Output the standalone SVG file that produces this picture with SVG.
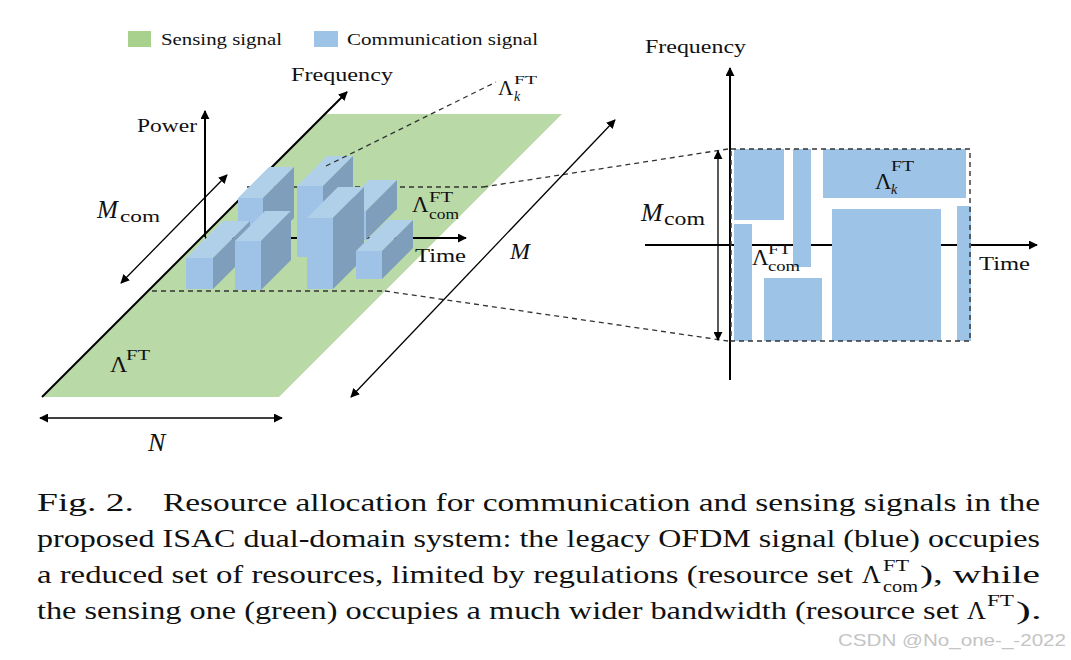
<svg xmlns="http://www.w3.org/2000/svg" width="1071" height="660" viewBox="0 0 1071 660">
<defs>
<marker id="ah" viewBox="0 0 10 10" refX="9" refY="5" markerWidth="9" markerHeight="9" markerUnits="userSpaceOnUse" orient="auto-start-reverse">
<path d="M0,0 L10,5 L0,10 z" fill="#000"/>
</marker>
<style>
text{font-family:'Liberation Serif','Tinos','Times New Roman','DejaVu Serif',serif;fill:#111}
.lbl{font-size:19.5px}
.it{font-style:italic}
.fr{fill:#9fc3e6}
.tp{fill:#b0d0ea}
.sd{fill:#7f9ebb}
.blk{fill:#9dc3e6}
.ax{stroke:#000;fill:none}
.dash{stroke:#333;stroke-width:1.3;stroke-dasharray:5,4;fill:none}
.cap{font-size:26px}
</style>
</defs>
<rect width="1071" height="660" fill="#fff"/>

<g id="legend">
<rect x="128" y="31" width="23" height="16" fill="#a9d18e"/>
<text x="161" y="45" font-size="17" textLength="121" lengthAdjust="spacingAndGlyphs">Sensing signal</text>
<rect x="314" y="31" width="24" height="16" fill="#9dc3e6"/>
<text x="347" y="45" font-size="17" textLength="191" lengthAdjust="spacingAndGlyphs">Communication signal</text>
</g>

<g id="plane">
<polygon points="42,397 279,397 562,114 325,114" fill="#b9d9a6"/>
</g>

<g id="connectors">
<line class="ax" x1="205" y1="237" x2="205" y2="111" stroke-width="2" marker-end="url(#ah)"/>
<line class="ax" x1="205" y1="238" x2="466" y2="238" stroke-width="2" marker-end="url(#ah)"/>
<line class="dash" x1="247" y1="187" x2="483" y2="187"/>
<line class="dash" x1="483" y1="187" x2="728" y2="149"/>
<line class="dash" x1="152" y1="291" x2="385" y2="291"/>
<line class="dash" x1="385" y1="291" x2="728" y2="341"/>
<line class="ax" x1="42" y1="397" x2="347" y2="92" stroke-width="2" marker-end="url(#ah)"/>
<line class="ax" x1="121" y1="283" x2="227" y2="175" stroke-width="1.3" marker-start="url(#ah)" marker-end="url(#ah)"/>
<line class="ax" x1="351" y1="397" x2="615" y2="120" stroke-width="1.3" marker-start="url(#ah)" marker-end="url(#ah)"/>
<line class="ax" x1="40" y1="418" x2="282" y2="418" stroke-width="1.5" marker-start="url(#ah)" marker-end="url(#ah)"/>
<line class="ax" x1="730" y1="380" x2="730" y2="68" stroke-width="2" marker-end="url(#ah)"/>
<line class="ax" x1="645" y1="245" x2="1037" y2="245" stroke-width="2" marker-end="url(#ah)"/>
<line class="ax" x1="718" y1="151" x2="718" y2="340" stroke="#222" stroke-width="1.3" marker-start="url(#ah)" marker-end="url(#ah)"/>
</g>

<g id="boxF"><rect class="fr" x="338" y="211" width="28" height="29"/><polygon class="tp" points="338,211 366,211 397,180 369,180"/><polygon class="sd" points="366,211 397,180 397,209 366,240"/></g>
<g id="boxC"><rect class="fr" x="238" y="198" width="25" height="51"/><polygon class="tp" points="238,198 263,198 294,167 269,167"/><polygon class="sd" points="263,198 294,167 294,218 263,249"/></g>
<g id="boxD"><rect class="fr" x="297" y="186" width="26" height="71"/><polygon class="tp" points="297,186 323,186 353,156 327,156"/><polygon class="sd" points="323,186 353,156 353,227 323,257"/></g>
<g id="boxA"><rect class="fr" x="186" y="258" width="27" height="31"/><polygon class="tp" points="186,258 213,258 250,221 223,221"/><polygon class="sd" points="213,258 250,221 250,252 213,289"/></g>
<g id="boxB"><rect class="fr" x="235" y="241" width="26" height="49"/><polygon class="tp" points="235,241 261,241 291,211 265,211"/><polygon class="sd" points="261,241 291,211 291,260 261,290"/></g>
<g id="boxE"><rect class="fr" x="307" y="218" width="26" height="71"/><polygon class="tp" points="307,218 333,218 364,187 338,187"/><polygon class="sd" points="333,218 364,187 364,258 333,289"/></g>
<g id="boxG"><rect class="fr" x="356" y="251" width="26" height="28"/><polygon class="tp" points="356,251 382,251 413,220 387,220"/><polygon class="sd" points="382,251 413,220 413,248 382,279"/></g>

<g id="kline"><line class="dash" x1="326" y1="166" x2="496" y2="82"/></g>

<g id="left-labels">
<text class="lbl" x="291" y="81" textLength="102" lengthAdjust="spacingAndGlyphs">Frequency</text>
<text class="lbl" x="137" y="132" textLength="60" lengthAdjust="spacingAndGlyphs">Power</text>
<text class="lbl" x="415" y="262" textLength="51" lengthAdjust="spacingAndGlyphs">Time</text>
<text class="it" x="97" y="218" font-size="25">M</text>
<text x="120" y="222" font-size="17" textLength="40" lengthAdjust="spacingAndGlyphs">com</text>
<text class="it" x="510" y="259" font-size="24">M</text>
<text class="it" x="148" y="451" font-size="26">N</text>
<text x="110" y="372" font-size="24">Λ</text>
<text x="126" y="360" font-size="14" textLength="24" lengthAdjust="spacingAndGlyphs">FT</text>
<text x="412" y="212" font-size="23">Λ</text>
<text x="429" y="202" font-size="14" textLength="24" lengthAdjust="spacingAndGlyphs">FT</text>
<text x="429" y="219" font-size="15" textLength="30" lengthAdjust="spacingAndGlyphs">com</text>
<text x="498" y="95" font-size="21">Λ</text>
<text x="514" y="84" font-size="13" textLength="23" lengthAdjust="spacingAndGlyphs">FT</text>
<text class="it" x="514" y="101" font-size="14">k</text>
</g>

<g id="tf-grid">
<rect class="blk" x="734" y="149" width="50" height="71"/>
<rect class="blk" x="793" y="149" width="18" height="118"/>
<rect class="blk" x="823" y="149" width="143" height="49"/>
<rect class="blk" x="734" y="224" width="18" height="117"/>
<rect class="blk" x="764" y="278" width="58" height="63"/>
<rect class="blk" x="832" y="209" width="109" height="132"/>
<rect class="blk" x="957" y="206" width="14" height="135"/>
<rect x="731" y="149" width="239" height="192" fill="none" stroke="#333" stroke-width="1.4" stroke-dasharray="5,4"/>
</g>

<g id="right-labels">
<text class="lbl" x="645" y="53" textLength="101" lengthAdjust="spacingAndGlyphs">Frequency</text>
<text class="lbl" x="979" y="270" textLength="51" lengthAdjust="spacingAndGlyphs">Time</text>
<text class="it" x="641" y="221" font-size="26">M</text>
<text x="664" y="225" font-size="18" textLength="41" lengthAdjust="spacingAndGlyphs">com</text>
<text x="875" y="189" font-size="23">Λ</text>
<text x="891" y="171" font-size="14" textLength="23" lengthAdjust="spacingAndGlyphs">FT</text>
<text class="it" x="891" y="194" font-size="14">k</text>
<text x="752" y="265" font-size="23">Λ</text>
<text x="768" y="254" font-size="14" textLength="23" lengthAdjust="spacingAndGlyphs">FT</text>
<text x="768" y="271" font-size="15" textLength="32" lengthAdjust="spacingAndGlyphs">com</text>
</g>

<g id="caption">
<text class="cap" x="37" y="511" textLength="97" lengthAdjust="spacingAndGlyphs">Fig. 2.</text>
<text class="cap" x="163" y="511" textLength="877" lengthAdjust="spacingAndGlyphs">Resource allocation for communication and sensing signals in the</text>
<text class="cap" x="37" y="547" textLength="1003" lengthAdjust="spacingAndGlyphs">proposed ISAC dual-domain system: the legacy OFDM signal (blue) occupies</text>
<text class="cap" x="37" y="583" textLength="816" lengthAdjust="spacingAndGlyphs">a reduced set of resources, limited by regulations (resource set</text>
<text class="cap" x="862" y="583">Λ</text>
<text x="883" y="571" font-size="17" textLength="26" lengthAdjust="spacingAndGlyphs">FT</text>
<text x="883" y="592" font-size="17" textLength="35" lengthAdjust="spacingAndGlyphs">com</text>
<text class="cap" x="920" y="583" textLength="120" lengthAdjust="spacingAndGlyphs">), while</text>
<text class="cap" x="37" y="619" textLength="922" lengthAdjust="spacingAndGlyphs">the sensing one (green) occupies a much wider bandwidth (resource set</text>
<text class="cap" x="967" y="619">Λ</text>
<text x="987" y="606" font-size="17" textLength="27" lengthAdjust="spacingAndGlyphs">FT</text>
<text class="cap" x="1016" y="619" textLength="26" lengthAdjust="spacingAndGlyphs">).</text>
</g>

<g id="watermark">
<text x="838" y="646" font-size="17" textLength="228" lengthAdjust="spacingAndGlyphs" style="font-family:'Liberation Sans','DejaVu Sans',sans-serif;fill:#c4c4c4">CSDN @No_one-_-2022</text>
</g>
</svg>
